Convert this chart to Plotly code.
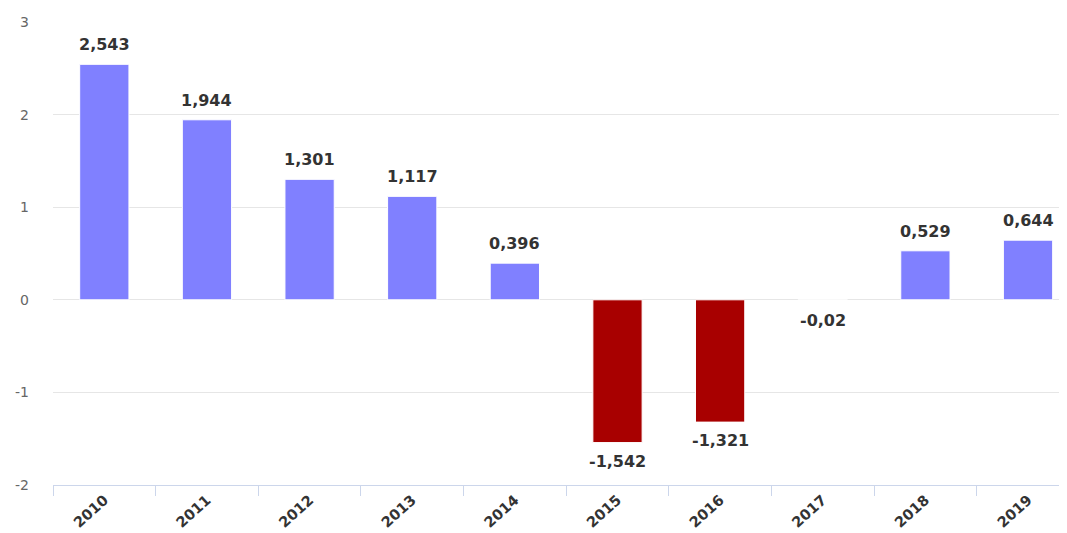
import plotly.graph_objects as go

years = ["2010", "2011", "2012", "2013", "2014", "2015", "2016", "2017", "2018", "2019"]
values = [2.543, 1.944, 1.301, 1.117, 0.396, -1.542, -1.321, -0.02, 0.529, 0.644]
labels = ["2,543", "1,944", "1,301", "1,117", "0,396", "-1,542", "-1,321", "-0,02", "0,529", "0,644"]
y_ticks = [-2, -1, 0, 1, 2, 3]
y_tick_text = ["-2", "-1", "0", "1", "2", "3"]

colors = []
for v in values:
    if v >= 0:
        colors.append("#8080ff")
    elif v > -0.1:
        colors.append("#ffffff")
    else:
        colors.append("#a80000")

fig = go.Figure(go.Bar(
    x=years, y=values,
    marker=dict(color=colors, line=dict(color="#ffffff", width=1)),
    width=0.48,
))

for i, (v, lab) in enumerate(zip(values, labels)):
    fig.add_annotation(
        x=i, y=v, text="<b>%s</b>" % lab, showarrow=False,
        xref="x", yref="y",
        yanchor="bottom" if v >= 0 else "top",
        yshift=8 if v >= 0 else -7,
        font=dict(family="DejaVu Sans", size=16, color="#333333"),
    )

# page body has an 8px offset, so the figure is sized to fit the window
fig.update_layout(
    width=1059, height=525,
    margin=dict(l=45, r=1, t=14, b=48),
    plot_bgcolor="white", paper_bgcolor="white",
    showlegend=False,
    font=dict(family="DejaVu Sans"),
)
fig.update_xaxes(
    type="category", range=[-0.5, 9.37], automargin=False,
    tickson="boundaries", ticks="outside", ticklen=10, tickcolor="#ccd6eb",
    showline=True, linecolor="#ccd6eb", linewidth=1,
    tickangle=-42, tickfont=dict(size=14.5, color="#333333", weight="bold"),
    showgrid=False,
)
fig.update_yaxes(
    range=[-2, 3], tickvals=y_ticks, ticktext=y_tick_text, automargin=False,
    showgrid=True, gridcolor="#e6e6e6",
    zeroline=False, tickfont=dict(size=14, color="#666666"),
    ticklabelstandoff=23,
)
fig.write_html("out.html")
